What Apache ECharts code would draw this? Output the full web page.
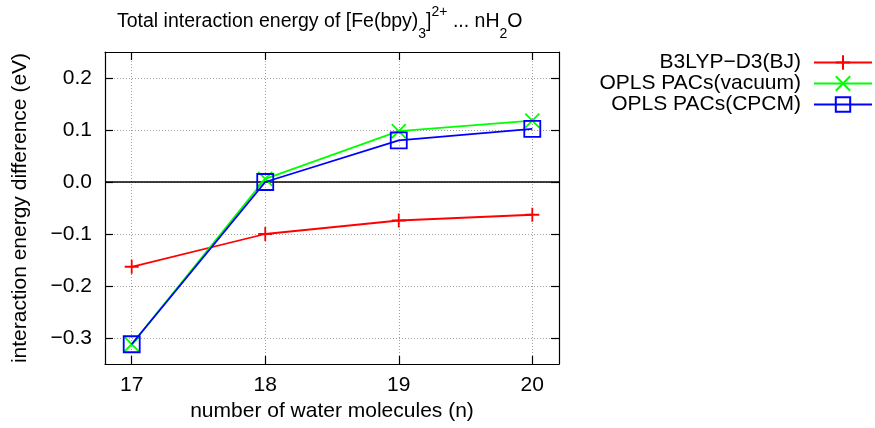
<!DOCTYPE html>
<html>
<head>
<meta charset="utf-8">
<script src="https://cdn.jsdelivr.net/npm/echarts@6/dist/echarts.min.js"></script>
<style>
html,body{margin:0;padding:0;background:#fff;}
#c{width:875px;height:428px;}
</style>
</head>
<body>
<div id="c"></div>
<script>
const nValues = [17, 18, 19, 20];
const b3lyp = [-0.163, -0.100, -0.074, -0.063];
const oplsVacuum = [-0.312, 0.006, 0.098, 0.118];
const oplsCpcm = [-0.312, 0.000, 0.080, 0.102];
const xTicks = [17, 18, 19, 20];
const yTicks = [-0.3, -0.2, -0.1, 0.0, 0.1, 0.2];
const seriesNames = ['B3LYP\u2212D3(BJ)', 'OPLS PACs(vacuum)', 'OPLS PACs(CPCM)'];

const FONT = 'Liberation Sans, Arial, sans-serif';
const FS = 21;
const pairs = arr => nValues.map((n, i) => [n, arr[i]]);
const fmt = v => (Math.abs(v) < 1e-9 ? '0.0' : v.toFixed(1).replace('-', '\u2212'));

const chart = echarts.init(document.getElementById('c'), null, {renderer: 'canvas'});

const baseX = {
  type: 'value', min: 16.8, max: 20.2,
  axisLine: {show: true, onZero: false, lineStyle: {color: '#000', width: 1.2}},
  axisTick: {show: true, inside: true, length: 8, customValues: xTicks, lineStyle: {color: '#000', width: 1.2}},
  splitLine: {show: false}
};
const baseY = {
  type: 'value', min: -0.35, max: 0.25,
  axisLine: {show: true, onZero: false, lineStyle: {color: '#000', width: 1.2}},
  axisTick: {show: true, inside: true, length: 8, customValues: yTicks, lineStyle: {color: '#000', width: 1.2}},
  splitLine: {show: false}
};

const option = {
  animation: false,
  backgroundColor: '#fff',
  textStyle: {fontFamily: FONT},
  title: {
    text: 'Total interaction energy of [Fe(bpy){sub|3}]{sup|2+} ... nH{sub|2}O',
    left: 112, top: 2,
    textStyle: {
      fontFamily: FONT, fontSize: 19.5, fontWeight: 'normal', color: '#000',
      lineHeight: 30,
      rich: {
        sub: {fontFamily: FONT, fontSize: 14, color: '#000', verticalAlign: 'bottom', lineHeight: 30, padding: [0, 0, -4, 0]},
        sup: {fontFamily: FONT, fontSize: 14, color: '#000', verticalAlign: 'top', lineHeight: 30, padding: [-2, 0, 0, 0]}
      }
    }
  },
  legend: {
    orient: 'vertical', right: 2, top: 52, align: 'right', padding: 0,
    itemWidth: 58, itemHeight: 18, itemGap: 0,
    textStyle: {fontFamily: FONT, fontSize: FS, color: '#000', lineHeight: 21, padding: [0, 8, 0, 0]},
    data: seriesNames
  },
  grid: {left: 105, right: 316, top: 52, bottom: 64, containLabel: false},
  xAxis: [
    Object.assign({}, baseX, {
      position: 'bottom',
      name: 'number of water molecules (n)', nameLocation: 'middle', nameGap: 34,
      nameTextStyle: {fontFamily: FONT, fontSize: FS, color: '#000'},
      axisLabel: {show: true, customValues: xTicks, margin: 11, fontFamily: FONT, fontSize: FS, color: '#000', formatter: v => String(v)},
      splitLine: {show: true, lineStyle: {color: '#a0a0a0', width: 1, type: [1, 2]}}
    }),
    Object.assign({}, baseX, {position: 'top', axisLabel: {show: false}})
  ],
  yAxis: [
    Object.assign({}, baseY, {
      position: 'left',
      name: 'interaction energy difference (eV)', nameLocation: 'middle', nameGap: 74,
      nameTextStyle: {fontFamily: FONT, fontSize: FS, color: '#000'},
      axisLabel: {show: true, customValues: yTicks, margin: 13, fontFamily: FONT, fontSize: FS, color: '#000', formatter: fmt},
      splitLine: {show: true, lineStyle: {color: '#a0a0a0', width: 1, type: [1, 2]}}
    }),
    Object.assign({}, baseY, {position: 'right', axisLabel: {show: false}})
  ],
  series: [
    {
      name: seriesNames[0], type: 'line', data: pairs(b3lyp),
      symbol: 'path://M5,0V10M0,5H10', symbolSize: 14,
      lineStyle: {color: '#ff0000', width: 1.8},
      itemStyle: {color: 'rgba(0,0,0,0)', borderColor: '#ff0000', borderWidth: 1.8},
      markLine: {
        silent: true, symbol: 'none', label: {show: false},
        lineStyle: {color: '#000', width: 1.5, type: 'solid'},
        data: [{yAxis: 0}], z: 1
      },
      z: 3
    },
    {
      name: seriesNames[1], type: 'line', data: pairs(oplsVacuum),
      symbol: 'path://M0,0L10,10M10,0L0,10', symbolSize: 14,
      lineStyle: {color: '#00ff00', width: 1.8},
      itemStyle: {color: 'rgba(0,0,0,0)', borderColor: '#00ff00', borderWidth: 1.8},
      z: 4
    },
    {
      name: seriesNames[2], type: 'line', data: pairs(oplsCpcm),
      symbol: 'path://M0,0H10V10H0Z', symbolSize: 16,
      lineStyle: {color: '#0000ff', width: 1.8},
      itemStyle: {color: 'rgba(0,0,0,0)', borderColor: '#0000ff', borderWidth: 1.8},
      z: 5
    }
  ]
};
chart.setOption(option);
</script>
</body>
</html>
